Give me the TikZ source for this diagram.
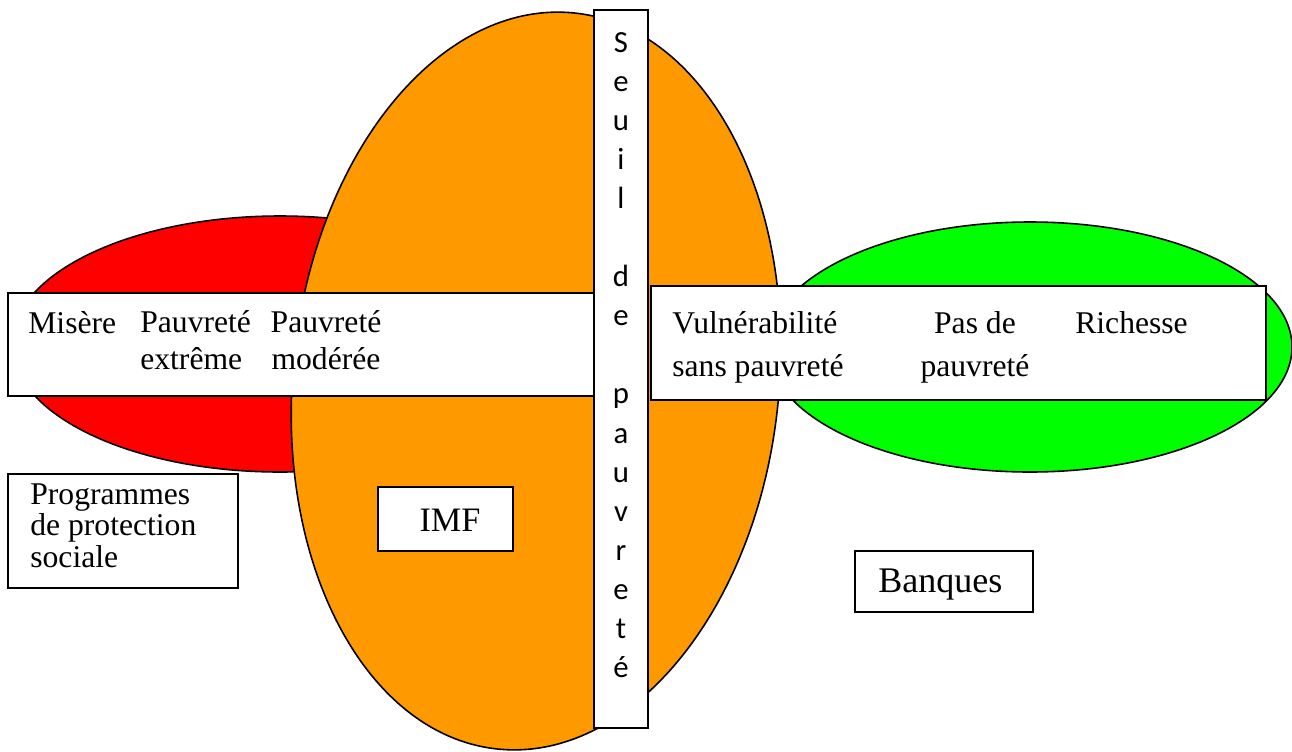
\documentclass[tikz,border=0pt]{standalone}
\usepackage{fontspec}
\setmainfont{Liberation Serif}
\newfontfamily\seuilfont{Carlito}
\definecolor{rouge}{HTML}{FF0000}
\definecolor{vert}{HTML}{00FF00}
\definecolor{orangeIMF}{HTML}{FF9900}
\tikzset{
  bande/.style={draw, fill=white, line width=1pt},
  etiq/.style={inner sep=0pt, font=\fontsize{18}{20.5}\selectfont},
  lettre/.style={inner sep=0pt, anchor=base, font=\seuilfont\fontsize{17.5}{20}\selectfont}
}
\begin{document}
\begin{tikzpicture}[x=0.02cm,y=-0.02cm]
\useasboundingbox (0,0) rectangle (1292,751);
% les trois zones
\draw [fill=rouge, line width=0.9pt] (280,344) ellipse [x radius=268, y radius=128];
\draw [fill=vert, line width=0.9pt] (1030,347) ellipse [x radius=262, y radius=125];
\draw [fill=orangeIMF, line width=0.9pt, rotate around={-6:(536,381)}] (536,381) ellipse [x radius=243, y radius=370];
% bandes (base = derniere ligne)
\draw [bande] (8,293) rectangle (597,396);
\draw [bande] (651,286) rectangle (1266,400);
\node [etiq, anchor=base west] (misere) at (28,333) {Misère};
\node [etiq, anchor=base west, align=left] (extreme) at (140,369) {Pauvreté\\extrême};
\node [etiq, anchor=base, align=center] (moderee) at (326,369) {Pauvreté\\modérée};
\node [etiq, anchor=base west, align=left, font=\fontsize{18}{24.4}\selectfont] (vulner) at (672,376) {Vulnérabilité\\sans pauvreté};
\node [etiq, anchor=base, align=center, font=\fontsize{18}{24.4}\selectfont] (pasde) at (975,376) {Pas de\\pauvreté};
\node [etiq, anchor=base west] (richesse) at (1075,333) {Richesse};
% seuil
\draw [bande] (594,10) rectangle (648,728);
\foreach \ch [count=\i from 0] in {S,e,u,i,l,{},d,e,{},p,a,u,v,r,e,t,é}
  \node [lettre] (s\i) at (621,52+39.1*\i) {\ch};
% acteurs
\draw [bande] (8,474) rectangle (238,588);
\node [etiq, anchor=base west, align=left, font=\fontsize{18}{17.8}\selectfont] (progr) at (30,567) {Programmes\\de protection\\sociale};
\draw [bande] (378,487) rectangle (513,551);
\node [etiq, anchor=base, font=\fontsize{19.5}{22}\selectfont] (imf) at (450,531) {IMF};
\draw [bande] (855,551) rectangle (1033,612);
\node [etiq, anchor=base west, font=\fontsize{20.5}{24}\selectfont] (banques) at (878,592) {Banques};
\end{tikzpicture}
\end{document}
